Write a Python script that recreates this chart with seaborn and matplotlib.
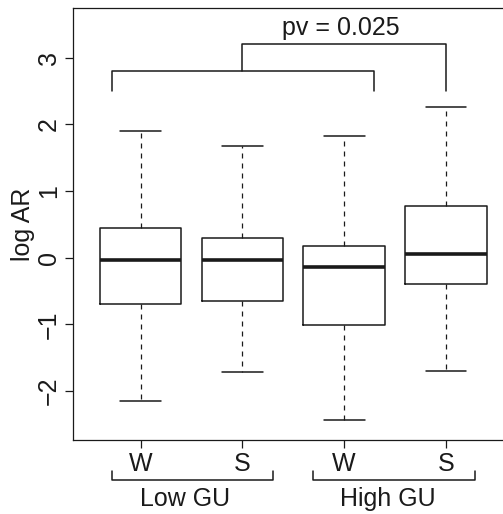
import numpy as np
import pandas as pd
import matplotlib
matplotlib.use("Agg")
import matplotlib.pyplot as plt
import seaborn as sns

# Five-number summaries (min, Q1, median, Q3, max) of log AR for each group
groups = ["Low GU W", "Low GU S", "High GU W", "High GU S"]
season_labels = ["W", "S", "W", "S"]
low_w = [-2.15, -0.695, -0.03, 0.44, 1.905]
low_s = [-1.71, -0.65, -0.03, 0.295, 1.67]
high_w = [-2.43, -1.01, -0.147, 0.18, 1.825]
high_s = [-1.695, -0.395, 0.058, 0.78, 2.265]
y_ticks = [-2, -1, 0, 1, 2, 3]
gu_labels = ["Low GU", "High GU"]
pv_text = "pv = 0.025"

df = pd.DataFrame({
    "group": np.repeat(groups, 5),
    "log AR": np.concatenate([low_w, low_s, high_w, high_s]),
})

sns.set_style("ticks")
plt.rcParams["font.family"] = ["Liberation Sans", "DejaVu Sans"]
plt.rcParams["font.size"] = 18
plt.rcParams["lines.scale_dashes"] = False

W, H = 503, 514
fig = plt.figure(figsize=(W / 100, H / 100), dpi=100)
ax = fig.add_axes([73.3 / W, 74 / H, 439.9 / W, 432 / H])

ink = "#1a1a1a"
sns.boxplot(
    data=df, x="group", y="log AR", order=groups, ax=ax,
    whis=(0, 100), width=0.8, fill=False, color=ink, linewidth=1.1,
    showfliers=False,
    medianprops=dict(linewidth=2.6, color=ink),
    whiskerprops=dict(linestyle=(0, (3.6, 3.6)), linewidth=0.9, color=ink),
    capprops=dict(linewidth=1.1, color=ink),
    boxprops=dict(linewidth=1.1, color=ink),
)

ax.set_xlim(-0.66, 3.66)
ax.set_ylim(-2.735, 3.745)
ax.set_xticks(range(len(groups)))
ax.set_xticklabels(season_labels)
ax.set_yticks(y_ticks)
ax.set_yticklabels([str(t).replace("-", "\u2212") for t in y_ticks])
ax.set_xlabel("")
ax.set_ylabel("log AR", fontsize=18, color=ink)
ax.yaxis.set_label_coords(-0.087, 0.5)
ax.yaxis.label.set_va("bottom")

for s in ["left", "bottom", "top"]:
    ax.spines[s].set_visible(True)
    ax.spines[s].set_linewidth(0.9)
    ax.spines[s].set_color(ink)
ax.spines["right"].set_visible(False)

ax.tick_params(axis="both", length=5.8, width=0.9, color=ink,
               labelcolor=ink, labelsize=18)
ax.tick_params(axis="x", pad=3)
ax.tick_params(axis="y", pad=3, labelrotation=90)
for lab in ax.get_yticklabels():
    lab.set_va("center")
    lab.set_ha("right")

# significance bracket between the two comparisons
lw_b = 1.1
ax.plot([-0.28, -0.28, 2.29, 2.29], [2.5, 2.8, 2.8, 2.5], color=ink, lw=lw_b)
ax.plot([1.0, 1.0, 3.0, 3.0], [2.8, 3.2, 3.2, 2.5], color=ink, lw=lw_b)
ax.text(1.97, 3.334, pv_text, ha="center", va="baseline", fontsize=18, color=ink)

# group brackets under the season labels
for (x0, x1), xt, lab in zip([(-0.28, 1.30), (1.695, 3.28)], [0.44, 2.43], gu_labels):
    ax.plot([x0, x0, x1, x1], [-3.193, -3.333, -3.333, -3.193], color=ink,
            lw=lw_b, clip_on=False)
    ax.text(xt, -3.718, lab, ha="center", va="baseline", fontsize=18,
            color=ink, clip_on=False)

fig.savefig("out.png", dpi=100)
